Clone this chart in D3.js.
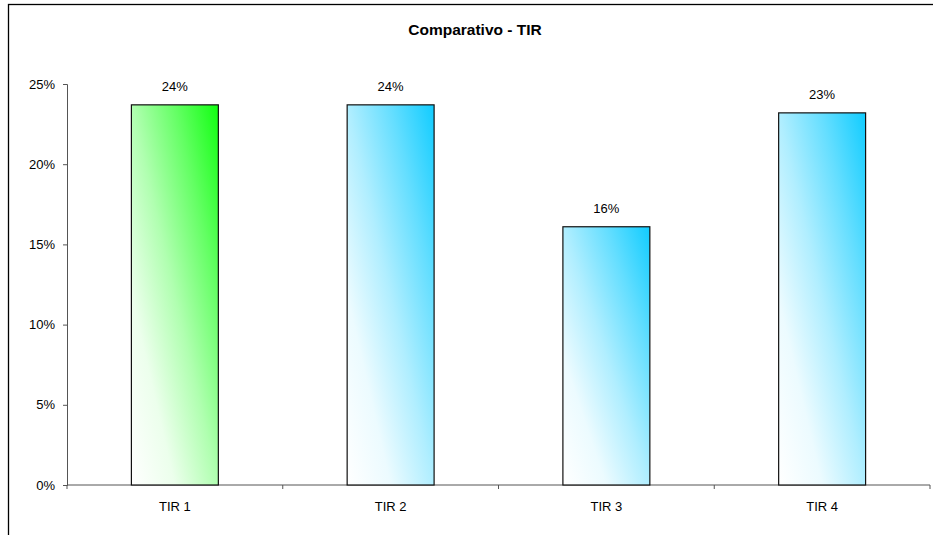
<!DOCTYPE html>
<html>
<head>
<meta charset="utf-8">
<script src="https://cdn.jsdelivr.net/npm/d3@7"></script>
<style>
  body { margin: 0; background: #fff; }
  text { font-family: "Liberation Sans", Arial, sans-serif; }
</style>
</head>
<body>
<svg width="933" height="535"></svg>
<script>
// data
var categories = ["TIR 1", "TIR 2", "TIR 3", "TIR 4"];
var values = [0.237, 0.237, 0.161, 0.232];
var labels = ["24%", "24%", "16%", "23%"];
var yTicks = [0, 0.05, 0.10, 0.15, 0.20, 0.25];

var svg = d3.select("svg");

// outer frame (cut off at right and bottom)
svg.append("rect")
    .attr("x", 8.5).attr("y", 4.5)
    .attr("width", 1000).attr("height", 1000)
    .attr("fill", "none").attr("stroke", "#000").attr("stroke-width", 1.3);

var margin = {left: 67, right: 3, top: 84, bottom: 50},
    width = 933 - margin.left - margin.right,
    height = 535 - margin.top - margin.bottom;

var x = d3.scaleBand().domain(categories).range([0, width])
    .paddingInner(0.597).paddingOuter(0.2985);
var y = d3.scaleLinear().domain([0, 0.25]).range([height, 0]);

// diagonal fill, white bottom-left to colour top-right
var defs = svg.append("defs");
function grad(id, col) {
  var g = defs.append("linearGradient").attr("id", id)
      .attr("x1", 0).attr("y1", 1).attr("x2", 1).attr("y2", 0);
  var mix = d3.interpolateRgb("#ffffff", col);
  [[0, 0], [0.25, 0.08], [0.5, 0.33], [0.75, 0.65], [1, 1]].forEach(function(s) {
    g.append("stop").attr("offset", s[0]).attr("stop-color", mix(s[1]));
  });
}
grad("gGreen", "#11ff11");
grad("gBlue", "#11ccff");

var g = svg.append("g")
    .attr("transform", "translate(" + margin.left + "," + margin.top + ")");

// title
svg.append("text")
    .attr("x", 475).attr("y", 35)
    .attr("text-anchor", "middle")
    .attr("font-size", "15.5px").attr("font-weight", "bold")
    .text("Comparativo - TIR");

// y axis
var yAxis = g.append("g")
    .call(d3.axisLeft(y).tickValues(yTicks).tickFormat(d3.format(".0%")).tickSize(4).tickPadding(8));
yAxis.selectAll("text").attr("font-size", "13px").attr("fill", "#000");
yAxis.select(".domain").attr("stroke", "#555");
yAxis.selectAll(".tick line").attr("stroke", "#555");

// x axis with ticks at band boundaries
var xAxis = g.append("g").attr("transform", "translate(0," + height + ")");
xAxis.append("line").attr("x1", 0).attr("x2", width).attr("stroke", "#555");
xAxis.selectAll(".bt")
    .data(d3.range(categories.length + 1))
    .enter().append("line")
    .attr("x1", function(i) { return i * x.step(); })
    .attr("x2", function(i) { return i * x.step(); })
    .attr("y1", 0).attr("y2", 4).attr("stroke", "#555");
xAxis.selectAll(".lbl")
    .data(categories)
    .enter().append("text")
    .attr("x", function(d) { return x(d) + x.bandwidth() / 2; })
    .attr("y", 26)
    .attr("text-anchor", "middle")
    .attr("font-size", "13px")
    .text(function(d) { return d; });

// bars
g.selectAll(".bar")
    .data(values)
    .enter().append("rect")
    .attr("x", function(d, i) { return x(categories[i]); })
    .attr("y", function(d) { return y(d); })
    .attr("width", x.bandwidth())
    .attr("height", function(d) { return height - y(d); })
    .attr("fill", function(d, i) { return i === 0 ? "url(#gGreen)" : "url(#gBlue)"; })
    .attr("stroke", "#111").attr("stroke-width", 1.2);

// value labels
g.selectAll(".val")
    .data(values)
    .enter().append("text")
    .attr("x", function(d, i) { return x(categories[i]) + x.bandwidth() / 2; })
    .attr("y", function(d) { return y(d) - 14; })
    .attr("text-anchor", "middle")
    .attr("font-size", "13px")
    .text(function(d, i) { return labels[i]; });
</script>
</body>
</html>
